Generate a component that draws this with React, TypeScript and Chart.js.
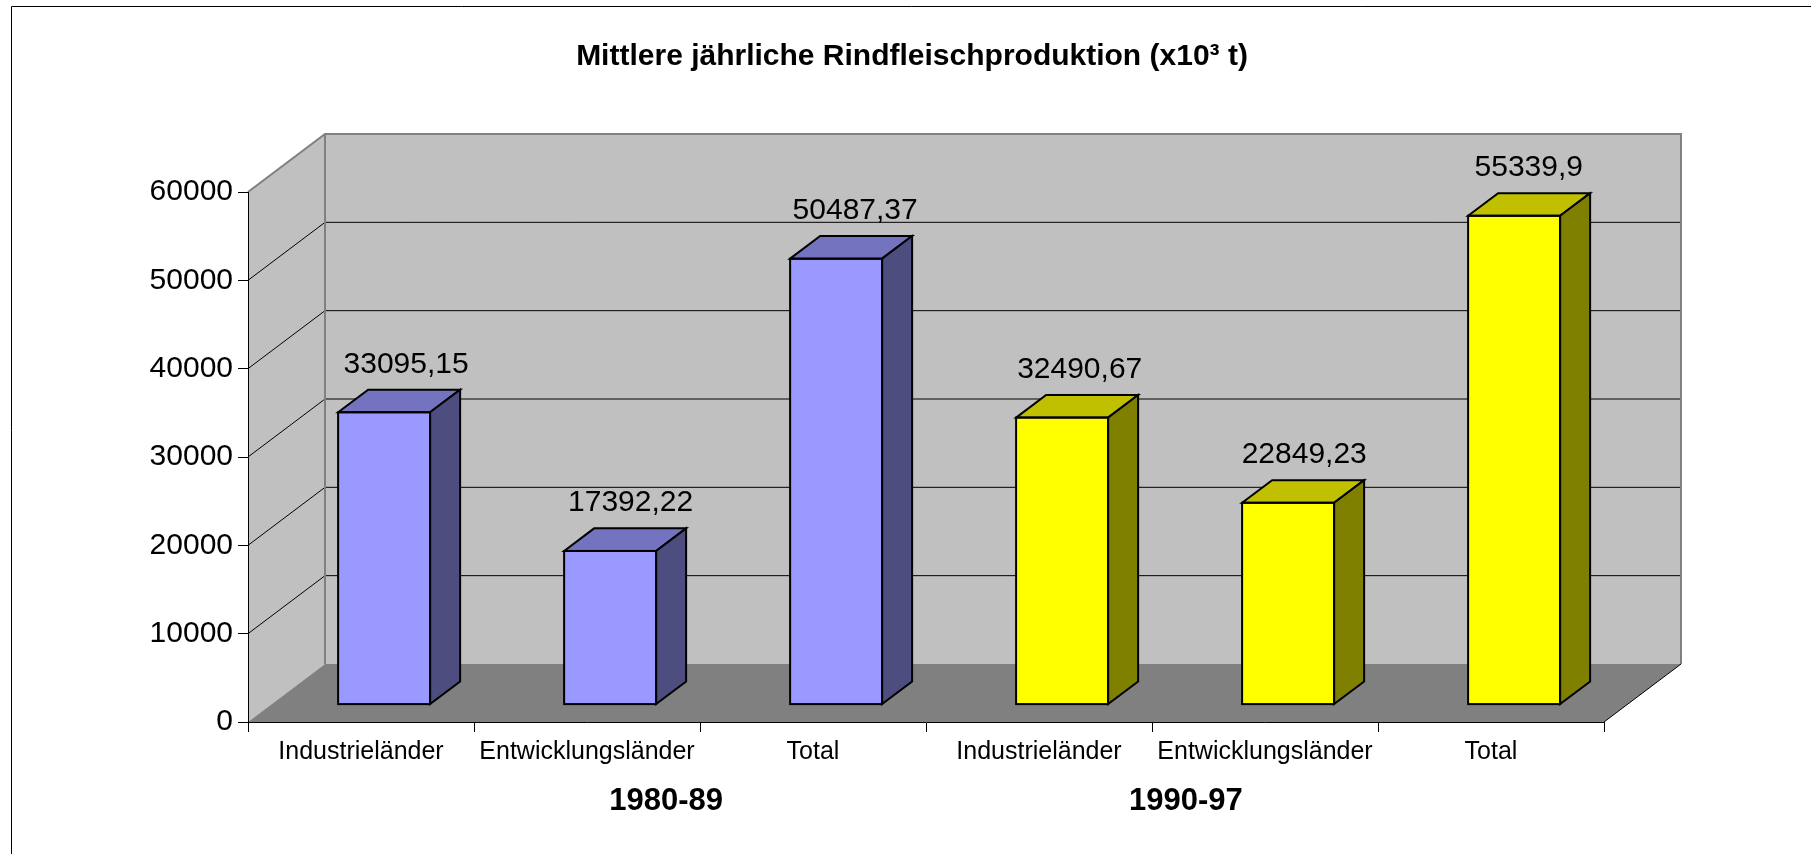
import React, { useEffect, useRef } from 'react';
import { Chart, registerables } from 'chart.js';

Chart.register(...registerables);

// ---------- data ----------
const categories = ['Industrieländer', 'Entwicklungsländer', 'Total', 'Industrieländer', 'Entwicklungsländer', 'Total'];
const periods = ['1980-89', '1990-97'];
const values1980 = [33095.15, 17392.22, 50487.37];
const values1990 = [32490.67, 22849.23, 55339.9];
const yMin = 0;
const yMax = 60000;
const yStep = 10000;
const chartTitle = 'Mittlere jährliche Rindfleischproduktion (x10³ t)';

// ---------- style ----------
const FONT = '"Liberation Sans", Arial, Helvetica, sans-serif';
const frontColors = ['#9999FF', '#FFFF00'];
const topColors = ['#7373BF', '#C0C000'];
const sideColors = ['#4D4D80', '#808000'];
const WALL = '#C0C0C0';
const FLOOR = '#808080';
const EDGE = '#808080';
const DEPTH_X = 77;
const DEPTH_Y = -58;
const BAR_FRONT = 0.3;
const BAR_DEPTH = 0.39;

const fmt = (v: number) => String(v).replace('.', ',');

const wallsPlugin = {
  id: 'walls3d',
  beforeDraw(chart: any) {
    const { ctx, chartArea: a, scales } = chart;
    const y = scales.y;
    const L = a.left, R = a.right, T = a.top, B = a.bottom;
    const dx = DEPTH_X, dy = DEPTH_Y;
    ctx.save();
    ctx.fillStyle = '#FFFFFF';
    ctx.fillRect(0, 0, chart.width, chart.height);
    // outer frame
    ctx.strokeStyle = '#000';
    ctx.lineWidth = 1;
    ctx.beginPath();
    ctx.moveTo(11.5, chart.height);
    ctx.lineTo(11.5, 6.5);
    ctx.lineTo(chart.width, 6.5);
    ctx.stroke();
    // left wall
    ctx.fillStyle = WALL;
    ctx.beginPath();
    ctx.moveTo(L, T); ctx.lineTo(L + dx, T + dy); ctx.lineTo(L + dx, B + dy); ctx.lineTo(L, B);
    ctx.closePath(); ctx.fill();
    // back wall
    ctx.fillRect(L + dx, T + dy, R - L, B - T);
    // floor
    ctx.fillStyle = FLOOR;
    ctx.beginPath();
    ctx.moveTo(L, B); ctx.lineTo(L + dx, B + dy); ctx.lineTo(R + dx, B + dy); ctx.lineTo(R, B);
    ctx.closePath(); ctx.fill();
    // gridlines
    ctx.strokeStyle = '#000';
    ctx.lineWidth = 1;
    y.ticks.forEach((t: any) => {
      if (t.value <= yMin || t.value >= yMax) return;
      const py = y.getPixelForValue(t.value);
      ctx.beginPath();
      ctx.moveTo(L, py);
      ctx.lineTo(L + dx, py + dy);
      ctx.lineTo(R + dx, py + dy);
      ctx.stroke();
    });
    // wall edges
    ctx.strokeStyle = EDGE;
    ctx.lineWidth = 2;
    ctx.beginPath();
    ctx.moveTo(L, T);
    ctx.lineTo(L + dx, T + dy);
    ctx.lineTo(R + dx, T + dy);
    ctx.lineTo(R + dx, B + dy);
    ctx.moveTo(L + dx, T + dy);
    ctx.lineTo(L + dx, B + dy);
    ctx.stroke();
    // floor right edge
    ctx.strokeStyle = '#000';
    ctx.lineWidth = 1;
    ctx.beginPath();
    ctx.moveTo(R, B);
    ctx.lineTo(R + dx, B + dy);
    ctx.stroke();
    ctx.restore();
  },
  afterLayout(chart: any) {
    const tb = chart.titleBlock;
    if (tb) { tb.left -= 14; tb.right -= 14; }
  },
  beforeDatasetsDraw(chart: any) {
    chart.ctx.save();
    chart.ctx.translate(DEPTH_X * BAR_FRONT, DEPTH_Y * BAR_FRONT);
  },
  afterDatasetsDraw(chart: any) {
    const { ctx } = chart;
    const bdx = DEPTH_X * BAR_DEPTH, bdy = DEPTH_Y * BAR_DEPTH;
    ctx.lineWidth = 2;
    ctx.strokeStyle = '#000';
    ctx.lineJoin = 'miter';
    const labels: any[] = [];
    chart.data.datasets.forEach((ds: any, di: number) => {
      const meta = chart.getDatasetMeta(di);
      meta.data.forEach((bar: any, i: number) => {
        const v = ds.data[i];
        if (v === null || v === undefined) return;
        const { x, y, base, width } = bar.getProps(['x', 'y', 'base', 'width'], true);
        const l = x - width / 2, r = x + width / 2;
        // top face
        ctx.fillStyle = topColors[di];
        ctx.beginPath();
        ctx.moveTo(l, y); ctx.lineTo(l + bdx, y + bdy); ctx.lineTo(r + bdx, y + bdy); ctx.lineTo(r, y);
        ctx.closePath(); ctx.fill(); ctx.stroke();
        // side face
        ctx.fillStyle = sideColors[di];
        ctx.beginPath();
        ctx.moveTo(r, y); ctx.lineTo(r + bdx, y + bdy); ctx.lineTo(r + bdx, base + bdy); ctx.lineTo(r, base);
        ctx.closePath(); ctx.fill(); ctx.stroke();
        // front outline
        ctx.strokeRect(l, y, r - l, base - y);
        labels.push({ x, y, v });
      });
    });
    ctx.restore();
    // data labels
    const ox = DEPTH_X * BAR_FRONT, oy = DEPTH_Y * BAR_FRONT;
    const x0 = chart.scales.x.getPixelForValue(0);
    ctx.save();
    ctx.fillStyle = '#000';
    ctx.font = `30px ${FONT}`;
    ctx.textAlign = 'center';
    ctx.textBaseline = 'middle';
    labels.forEach((p) => {
      const shift = 22 - 0.0065 * (p.x - x0);
      ctx.fillText(fmt(p.v), p.x + ox + shift, p.y + oy - 48);
    });
    // group labels
    const xs = chart.scales.x;
    const mid = (xs.getPixelForValue(2) + xs.getPixelForValue(3)) / 2;
    const cw = xs.getPixelForValue(1) - xs.getPixelForValue(0);
    ctx.font = `bold 31px ${FONT}`;
    ctx.fillText(periods[0], mid - 1.15 * cw, 801);
    ctx.fillText(periods[1], mid + 1.15 * cw, 801);
    ctx.restore();
  },
};

export default function App() {
  const ref = useRef<HTMLCanvasElement | null>(null);
  useEffect(() => {
    if (!ref.current) return;
    Chart.defaults.font.family = FONT;
    const chart = new Chart(ref.current, {
      type: 'bar',
      data: {
        labels: categories,
        datasets: [
          {
            label: periods[0],
            data: [...values1980, null, null, null],
            backgroundColor: frontColors[0],
            borderColor: '#000',
            borderWidth: 0,
            grouped: false,
            barPercentage: 0.407,
            categoryPercentage: 1,
          } as any,
          {
            label: periods[1],
            data: [null, null, null, ...values1990],
            backgroundColor: frontColors[1],
            borderColor: '#000',
            borderWidth: 0,
            grouped: false,
            barPercentage: 0.407,
            categoryPercentage: 1,
          } as any,
        ],
      },
      options: {
        responsive: false,
        animation: false,
        devicePixelRatio: 1,
        events: [],
        layout: { padding: { left: 138, right: 207, top: 0, bottom: 72 } },
        plugins: {
          legend: { display: false },
          tooltip: { enabled: false },
          title: {
            display: true,
            fullSize: false,
            text: chartTitle,
            color: '#000',
            font: { size: 30, weight: 'bold', family: FONT, lineHeight: 1.2 },
            padding: { top: 39, bottom: 117 },
          },
        },
        scales: {
          x: {
            type: 'category',
            offset: true,
            grid: { offset: true, drawOnChartArea: false, drawTicks: true, tickLength: 10, color: '#000', lineWidth: 1 },
            border: { display: true, color: '#000', width: 1 },
            ticks: { color: '#000', font: { size: 25, family: FONT }, padding: 5, maxRotation: 0, autoSkip: false },
            afterFit: (s: any) => { s.height = 60; },
          },
          y: {
            min: yMin,
            max: yMax,
            grid: { drawOnChartArea: false, drawTicks: true, tickLength: 10, color: '#000', lineWidth: 1 },
            border: { display: true, color: '#000', width: 1 },
            ticks: { stepSize: yStep, color: '#000', font: { size: 30, family: FONT }, padding: 5, callback: (v: any) => String(v) },
            afterFit: (s: any) => { s.width = 110; },
          },
        },
      },
      plugins: [wallsPlugin],
    });
    return () => chart.destroy();
  }, []);
  return (
    <div style={{ position: 'fixed', left: 0, top: 0, width: 1811, height: 854, background: '#fff' }}>
      <canvas ref={ref} width={1811} height={854} style={{ display: 'block', width: 1811, height: 854 }} />
    </div>
  );
}
